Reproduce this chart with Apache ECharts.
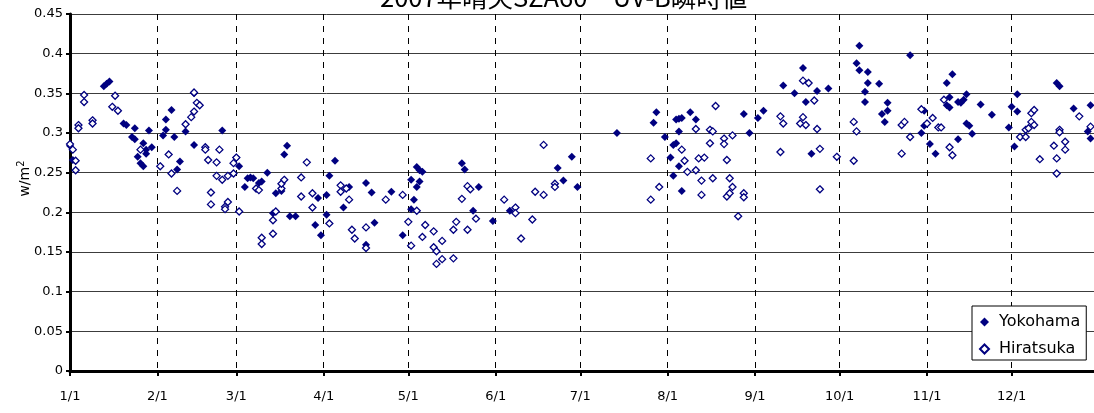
<!DOCTYPE html>
<html>
<head>
<meta charset="utf-8">
<script src="https://cdn.jsdelivr.net/npm/echarts@6/dist/echarts.min.js"></script>
<style>
  html, body { margin: 0; padding: 0; background: #fff; }
  #chart { width: 1094px; height: 413px; }
</style>
</head>
<body>
<div id="chart"></div>
<script>
// 2007 clear-sky UV-B at solar zenith angle 60 deg (morning/afternoon readings)
const YEAR = 2007;

const yokohamaDays = [
  '01-01','01-02','01-13','01-14','01-15','01-20','01-21','01-23','01-24','01-24',
  '01-25','01-26','01-27','01-27','01-28','01-28','01-29','01-30','02-03','02-04',
  '02-04','02-06','02-07','02-08','02-09','02-11','02-14','02-14','02-24','03-01',
  '03-02','03-04','03-05','03-06','03-07','03-09','03-10','03-12','03-14','03-15',
  '03-17','03-18','03-19','03-20','03-22','03-29','03-30','03-31','04-02','04-02',
  '04-03','04-05','04-08','04-10','04-16','04-16','04-18','04-19','04-25','04-29',
  '05-02','05-02','05-03','05-04','05-04','05-05','05-05','05-06','05-20','05-21',
  '05-24','05-26','05-31','06-06','06-23','06-25','06-28','06-30','07-14','07-27',
  '07-28','07-31','08-02','08-03','08-03','08-04','08-04','08-05','08-05','08-05',
  '08-06','08-06','08-09','08-11','08-28','08-30','09-02','09-04','09-11','09-15',
  '09-18','09-19','09-21','09-23','09-27','10-07','10-08','10-08','10-10','10-10',
  '10-11','10-11','10-15','10-16','10-17','10-18','10-18','10-26','10-30','10-31',
  '10-31','11-02','11-04','11-08','11-08','11-09','11-09','11-10','11-12','11-12',
  '11-13','11-14','11-15','11-15','11-16','11-17','11-20','11-24','11-30','12-01',
  '12-02','12-03','12-03','12-17','12-18','12-23','12-28','12-29','12-29'
];
const yokohamaUV = [
  0.284,0.266,0.359,0.362,0.365,0.312,0.310,0.295,0.306,0.292,
  0.270,0.262,0.258,0.287,0.274,0.279,0.303,0.282,0.297,0.304,
  0.317,0.329,0.295,0.254,0.264,0.302,0.285,0.350,0.303,0.269,
  0.258,0.232,0.243,0.244,0.243,0.237,0.239,0.250,0.199,0.224,
  0.227,0.273,0.284,0.195,0.195,0.184,0.218,0.171,0.222,0.197,
  0.246,0.265,0.206,0.232,0.237,0.159,0.225,0.187,0.226,0.171,
  0.241,0.204,0.216,0.257,0.232,0.239,0.253,0.251,0.262,0.254,
  0.202,0.232,0.189,0.202,0.256,0.240,0.270,0.232,0.300,0.313,
  0.326,0.295,0.269,0.285,0.246,0.317,0.287,0.318,0.302,0.258,
  0.319,0.227,0.326,0.317,0.324,0.300,0.319,0.328,0.360,0.350,
  0.382,0.339,0.274,0.353,0.356,0.388,0.410,0.379,0.352,0.339,
  0.377,0.363,0.362,0.324,0.314,0.338,0.328,0.398,0.300,0.328,
  0.309,0.286,0.274,0.363,0.335,0.345,0.332,0.374,0.339,0.292,
  0.338,0.342,0.349,0.312,0.309,0.299,0.336,0.323,0.307,0.333,
  0.283,0.349,0.327,0.363,0.359,0.331,0.302,0.335,0.293
];

const hiratsukaDays = [
  '01-01','01-02','01-03','01-03','01-04','01-04','01-06','01-06','01-09','01-09',
  '01-16','01-17','01-18','01-26','02-02','02-05','02-06','02-08','02-11','02-13',
  '02-14','02-14','02-15','02-16','02-18','02-18','02-19','02-20','02-20','02-22',
  '02-22','02-23','02-24','02-25','02-25','02-26','02-26','02-28','02-28','03-01',
  '03-02','03-08','03-09','03-10','03-10','03-14','03-14','03-15','03-17','03-17',
  '03-18','03-24','03-24','03-26','03-28','03-28','04-03','04-07','04-07','04-09',
  '04-10','04-11','04-12','04-16','04-16','04-23','04-29','05-01','05-02','05-04',
  '05-06','05-07','05-10','05-10','05-11','05-11','05-13','05-13','05-17','05-17',
  '05-18','05-20','05-22','05-22','05-23','05-25','06-04','06-08','06-08','06-10',
  '06-14','06-15','06-18','06-18','06-22','06-22','07-26','07-26','07-29','08-06',
  '08-07','08-08','08-11','08-11','08-12','08-13','08-13','08-14','08-16','08-16',
  '08-17','08-17','08-18','08-21','08-21','08-22','08-22','08-23','08-23','08-24',
  '08-24','08-26','08-28','08-28','09-10','09-10','09-11','09-17','09-18','09-18',
  '09-19','09-20','09-22','09-23','09-24','09-24','09-30','10-06','10-06','10-07',
  '10-23','10-23','10-24','10-26','10-30','11-01','11-03','11-05','11-06','11-07',
  '11-09','11-10','12-04','12-06','12-06','12-07','12-08','12-08','12-09','12-09',
  '12-11','12-16','12-17','12-17','12-18','12-18','12-20','12-20','12-25','12-29'
];
const hiratsukaUV = [
  0.286,0.279,0.265,0.253,0.310,0.306,0.348,0.339,0.316,0.312,
  0.333,0.347,0.328,0.279,0.258,0.273,0.249,0.227,0.311,0.320,
  0.327,0.351,0.338,0.335,0.282,0.279,0.266,0.225,0.210,0.263,
  0.246,0.279,0.241,0.207,0.204,0.213,0.246,0.249,0.262,0.269,
  0.201,0.230,0.228,0.168,0.160,0.173,0.190,0.201,0.230,0.236,
  0.241,0.244,0.220,0.263,0.224,0.206,0.186,0.234,0.226,0.230,
  0.216,0.178,0.167,0.181,0.155,0.216,0.222,0.188,0.158,0.202,
  0.169,0.184,0.176,0.156,0.151,0.135,0.164,0.141,0.142,0.178,
  0.188,0.217,0.178,0.233,0.229,0.192,0.216,0.206,0.199,0.167,
  0.191,0.226,0.222,0.285,0.236,0.232,0.268,0.216,0.232,0.279,
  0.265,0.251,0.305,0.253,0.268,0.240,0.222,0.269,0.304,0.287,
  0.302,0.243,0.334,0.293,0.286,0.266,0.220,0.243,0.224,0.232,
  0.297,0.195,0.224,0.219,0.321,0.276,0.312,0.312,0.366,0.320,
  0.310,0.363,0.341,0.305,0.280,0.229,0.270,0.314,0.265,0.302,
  0.310,0.274,0.314,0.295,0.330,0.312,0.319,0.307,0.307,0.342,
  0.282,0.272,0.295,0.295,0.304,0.306,0.314,0.325,0.310,0.329,
  0.267,0.284,0.268,0.249,0.304,0.301,0.289,0.279,0.321,0.308
];

const yTicks = { min: 0, max: 0.45, step: 0.05 };
const NAVY = '#000080';
const DAY = 86400000;

function pairs(days, values) {
  return days.map((d, i) => [YEAR + '-' + d, values[i]]);
}

const chart = echarts.init(document.getElementById('chart'), null, { renderer: 'canvas' });

chart.setOption({
  animation: false,
  backgroundColor: '#ffffff',
  title: {
    text: '2007年晴天SZA60　UV-B瞬時値',
    left: 380,
    top: -15,
    padding: 0,
    textStyle: {
      fontFamily: '"Noto Sans CJK JP", sans-serif',
      fontSize: 25.5,
      fontWeight: 'normal',
      color: '#000'
    }
  },
  // the plot runs on past the right edge of the page, to the start of next year
  grid: {
    left: 70, width: 1029, top: 14, height: 357,
    containLabel: false,
    outerBoundsMode: 'none'
  },
  legend: {
    orient: 'vertical',
    left: 972,
    top: 306,
    padding: [8, 6, 3, 7],
    itemGap: 11,
    itemWidth: 9,
    itemHeight: 9,
    backgroundColor: '#ffffff',
    borderColor: '#000',
    borderWidth: 1,
    borderRadius: 0,
    textStyle: {
      fontFamily: '"DejaVu Sans", sans-serif',
      fontSize: 16,
      color: '#000',
      padding: [0, 0, 0, 5]
    },
    data: ['Yokohama', 'Hiratsuka']
  },
  xAxis: {
    type: 'time',
    min: YEAR + '-01-01',
    max: (YEAR + 1) + '-01-01',
    minInterval: 28 * DAY,
    maxInterval: 31 * DAY,
    axisLine: { show: true, lineStyle: { color: '#000', width: 3 } },
    axisTick: { show: true, length: 5, lineStyle: { color: '#000', width: 2 } },
    axisLabel: {
      margin: 19,
      color: '#000',
      fontFamily: '"DejaVu Sans", sans-serif',
      fontSize: 13,
      showMaxLabel: false,
      formatter: function (val) {
        const d = new Date(val);
        return (d.getMonth() + 1) + '/' + d.getDate();
      }
    },
    splitLine: { show: true, lineStyle: { color: '#000', width: 1, type: [6, 6] } }
  },
  yAxis: {
    type: 'value',
    min: yTicks.min,
    max: yTicks.max,
    interval: yTicks.step,
    name: '{a|w/m}{b|2}',
    nameLocation: 'middle',
    nameRotate: 90,
    nameGap: 36,
    nameMoveOverlap: false,
    nameTextStyle: {
      padding: [0, 0, 0, 28],
      rich: {
        a: { fontFamily: '"DejaVu Sans", sans-serif', fontSize: 14, color: '#000' },
        b: { fontFamily: '"DejaVu Sans", sans-serif', fontSize: 10, color: '#000', verticalAlign: 'top', padding: [0, 0, 8, 0] }
      }
    },
    axisLine: { show: true, lineStyle: { color: '#000', width: 3 } },
    axisTick: { show: true, length: 4, lineStyle: { color: '#000', width: 2 } },
    axisLabel: {
      margin: 7,
      color: '#000',
      fontFamily: '"DejaVu Sans", sans-serif',
      fontSize: 13
    },
    splitLine: { show: true, lineStyle: { color: '#3c3c3c', width: 1 } }
  },
  series: [
    {
      name: 'Yokohama',
      type: 'scatter',
      symbol: 'diamond',
      symbolSize: 8,
      itemStyle: { color: NAVY, opacity: 1 },
      data: pairs(yokohamaDays, yokohamaUV)
    },
    {
      name: 'Hiratsuka',
      type: 'scatter',
      symbol: 'diamond',
      symbolSize: 7,
      itemStyle: { color: '#ffffff', borderColor: NAVY, borderWidth: 1.3, opacity: 1 },
      data: pairs(hiratsukaDays, hiratsukaUV)
    }
  ]
});
</script>
</body>
</html>
